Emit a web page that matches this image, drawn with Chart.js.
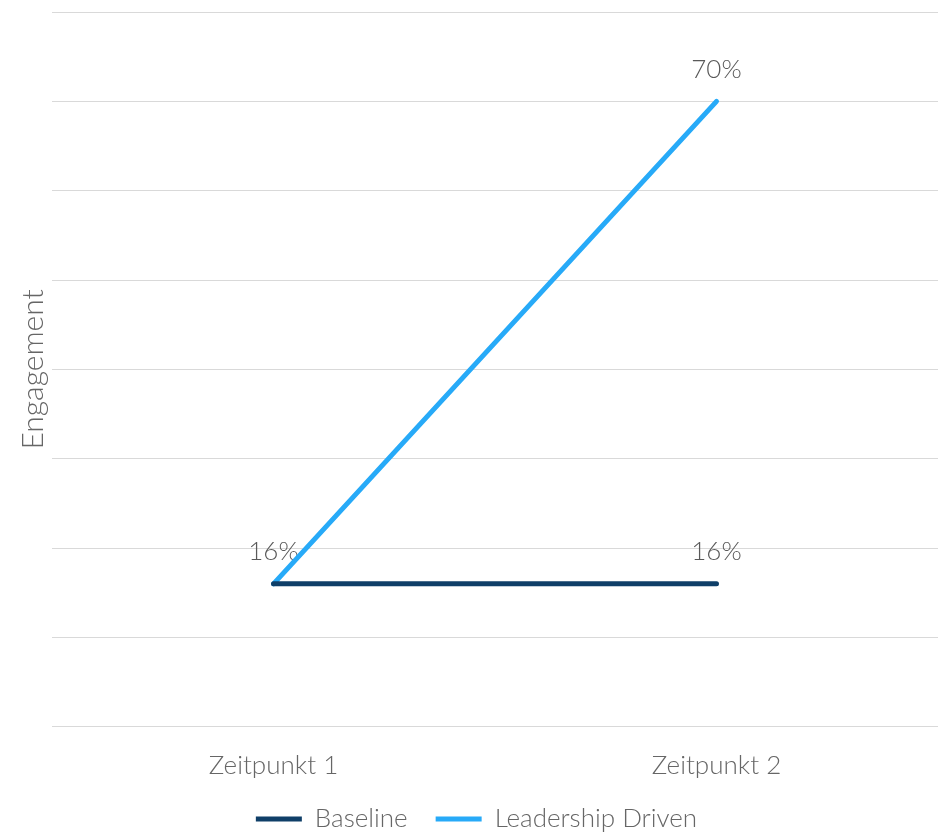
<!DOCTYPE html>
<html>
<head>
<meta charset="utf-8">
<script src="https://cdn.jsdelivr.net/npm/chart.js@4"></script>
<style>
  html, body { margin: 0; padding: 0; background: #fff; }
  #wrap { width: 946px; height: 832px; }
</style>
</head>
<body>
<div id="wrap"><canvas id="engagementChart"></canvas></div>
<script>
// Daten
const zeitpunkte = ['Zeitpunkt 1', 'Zeitpunkt 2'];
const baseline = [16, 16];
const leadershipDriven = [16, 70];
const yTicks = [0, 80, 10]; // min, max, Schritt

// Prozentwerte über den Punkten zeichnen (doppelte Positionen nur einmal)
const wertLabels = {
    id: 'wertLabels',
    beforeDatasetsDraw(chart) {
        const ctx = chart.ctx;
        const schon = new Set();
        ctx.save();
        ctx.font = '300 26px Lato, "Source Sans Pro", sans-serif';
        ctx.fillStyle = '#595959';
        ctx.textAlign = 'center';
        ctx.textBaseline = 'middle';
        chart.data.datasets.forEach((ds, i) => {
            chart.getDatasetMeta(i).data.forEach((pt, j) => {
                const key = Math.round(pt.x) + ':' + Math.round(pt.y);
                if (schon.has(key)) return;
                schon.add(key);
                ctx.fillText(ds.data[j] + '%', pt.x, pt.y - 32);
            });
        });
        ctx.restore();
    }
};

Chart.defaults.font.family = 'Lato, "Source Sans Pro", sans-serif';
Chart.defaults.font.weight = 300;
Chart.defaults.font.size = 26;
Chart.defaults.color = '#666666';

new Chart(document.getElementById('engagementChart'), {
    type: 'line',
    data: {
        labels: zeitpunkte,
        datasets: [
            {
                label: 'Baseline',
                data: baseline,
                borderColor: '#0f3f68',
                backgroundColor: '#0f3f68',
                borderWidth: 5,
                borderCapStyle: 'round',
                pointRadius: 0,
                tension: 0
            },
            {
                label: 'Leadership Driven',
                data: leadershipDriven,
                borderColor: '#27aaf8',
                backgroundColor: '#27aaf8',
                borderWidth: 5,
                borderCapStyle: 'round',
                pointRadius: 0,
                tension: 0
            }
        ]
    },
    options: {
        responsive: true,
        maintainAspectRatio: false,
        animation: false,
        layout: { padding: { left: 15, right: 8, top: 12, bottom: -10 } },
        scales: {
            x: {
                offset: true,
                grid: { display: false, drawTicks: false },
                border: { display: false },
                ticks: { padding: 23 },
                // Legende näher an die Achsenbeschriftung rücken
                afterFit(scale) { scale.height -= 26; }
            },
            y: {
                min: yTicks[0],
                max: yTicks[1],
                ticks: { display: false, stepSize: yTicks[2] },
                grid: { color: '#d9d9d9', lineWidth: 1, drawTicks: false },
                border: { display: false },
                title: {
                    display: true,
                    text: 'Engagement',
                    font: { size: 30 },
                    padding: { top: 0, bottom: 1 }
                }
            }
        },
        plugins: {
            legend: {
                position: 'bottom',
                labels: {
                    boxWidth: 46,
                    boxHeight: 5,
                    padding: 28,
                    color: '#666666',
                    // dünne Linie statt umrandeter Box
                    generateLabels(chart) {
                        return Chart.defaults.plugins.legend.labels.generateLabels(chart)
                            .map(l => ({ ...l, lineWidth: 0 }));
                    }
                }
            },
            tooltip: { enabled: false }
        }
    },
    plugins: [wertLabels]
});
</script>
</body>
</html>
